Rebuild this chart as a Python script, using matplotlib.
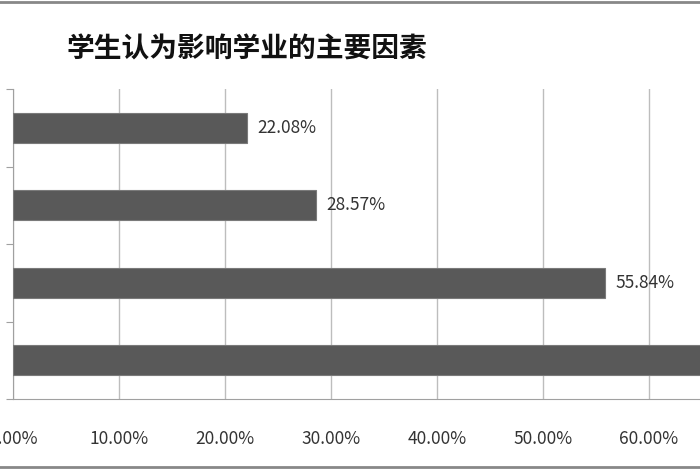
import numpy as np
import matplotlib
matplotlib.use("Agg")
import matplotlib.pyplot as plt
from matplotlib.lines import Line2D

plt.rcParams['font.family'] = ['Noto Sans CJK SC', 'DejaVu Sans']

# data (the bottom bar runs past the right edge of the picture, its value is a guess
# and its label lies outside the picture, so it is not drawn)
title = '学生认为影响学业的主要因素'
values = [0.2208, 0.2857, 0.5584, 0.6883]
labels = ['22.08%', '28.57%', '55.84%', '']
xticks = [0.0, 0.1, 0.2, 0.3, 0.4, 0.5, 0.6]
xticklabels = ['0.00%', '10.00%', '20.00%', '30.00%', '40.00%', '50.00%', '60.00%']

fig = plt.figure(figsize=(7, 4.7), dpi=100)
ax = fig.add_axes([13 / 700, 1 - 399 / 470, 1 - 13 / 700, 310 / 470])

pos = np.arange(len(values))
ax.barh(pos, values, height=0.39, color='#595959', edgecolor='#7a7a7a', linewidth=0.8, zorder=3)
for p, v, t in zip(pos, values, labels):
    if t:
        ax.text(v + 0.01, p, t, va='center', ha='left', fontsize=12.5, color='#333333', zorder=4)

ax.set_xlim(0, 687 / 1060)
ax.set_ylim(3.5, -0.5)
ax.set_xticks(xticks)
ax.set_xticklabels(xticklabels, fontsize=12.5, color='#333333')
ax.tick_params(axis='x', length=0, pad=22)
ax.xaxis.grid(True, color='#bdbdbd', linewidth=1, zorder=0)

ax.set_yticks([-0.5, 0.5, 1.5, 2.5, 3.5])
ax.set_yticklabels([])
ax.tick_params(axis='y', direction='out', length=5, color='#a0a0a0')

for s in ['top', 'right']:
    ax.spines[s].set_visible(False)
ax.spines['left'].set_color('#a0a0a0')
ax.spines['bottom'].set_color('#a0a0a0')

fig.text(247 / 700, 1 - 49 / 470, title, ha='center', va='center', fontsize=20,
         fontweight='bold', color='#111111')

# chart frame lines at top and bottom edge
fig.add_artist(Line2D([0, 1], [1 - 1.5 / 470, 1 - 1.5 / 470], color='#888888', linewidth=2, transform=fig.transFigure))
fig.add_artist(Line2D([0, 1], [1 - 467 / 470, 1 - 467 / 470], color='#888888', linewidth=2, transform=fig.transFigure))

fig.savefig('out.png', dpi=100)
